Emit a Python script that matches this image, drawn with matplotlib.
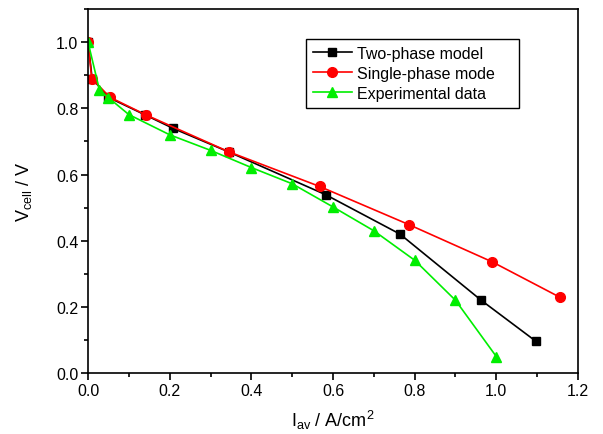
import matplotlib
matplotlib.use("Agg")
import matplotlib.pyplot as plt
from matplotlib.ticker import MultipleLocator

plt.rcParams['font.family'] = ['Liberation Sans', 'DejaVu Sans']
plt.rcParams['mathtext.fontset'] = 'custom'
plt.rcParams['mathtext.rm'] = 'Liberation Sans'
plt.rcParams['mathtext.it'] = 'Liberation Sans'

# Polarization curves: average current density (A/cm^2) vs. cell voltage (V)
two_phase_i = [0.0, 0.01, 0.05, 0.14, 0.209, 0.345, 0.582, 0.764, 0.963, 1.096]
two_phase_v = [1.0, 0.89, 0.833, 0.78, 0.739, 0.668, 0.539, 0.42, 0.22, 0.097]

single_phase_i = [0.0, 0.009, 0.054, 0.142, 0.346, 0.567, 0.787, 0.99, 1.156]
single_phase_v = [1.0, 0.89, 0.833, 0.78, 0.668, 0.564, 0.448, 0.336, 0.229]

exp_i = [0.0, 0.028, 0.05, 0.1, 0.2, 0.3, 0.4, 0.5, 0.6, 0.7, 0.8, 0.9, 1.0]
exp_v = [1.0, 0.855, 0.832, 0.781, 0.72, 0.673, 0.621, 0.572, 0.502, 0.43, 0.341, 0.22, 0.05]

fig = plt.figure(figsize=(6.03, 4.35), dpi=100)
ax = fig.add_axes([0.146, 0.140, 0.8125, 0.837])

ax.plot(two_phase_i, two_phase_v, color='black', lw=1.2, marker='s', ms=6,
        label='Two-phase model')
ax.plot(single_phase_i, single_phase_v, color='#ff0000', lw=1.2, marker='o', ms=7,
        label='Single-phase mode')
ax.plot(exp_i, exp_v, color='#00ee00', lw=1.2, marker='^', ms=7.5,
        label='Experimental data')

ax.set_xlim(0, 1.2)
ax.set_ylim(0, 1.1)
ax.xaxis.set_major_locator(MultipleLocator(0.2))
ax.xaxis.set_minor_locator(MultipleLocator(0.1))
ax.yaxis.set_major_locator(MultipleLocator(0.2))
ax.yaxis.set_minor_locator(MultipleLocator(0.1))
ax.xaxis.set_major_formatter(plt.FormatStrFormatter('%.1f'))
ax.yaxis.set_major_formatter(plt.FormatStrFormatter('%.1f'))

ax.tick_params(which='major', direction='out', length=5, width=1.2, labelsize=11.5,
               pad=2, top=False, right=False)
ax.tick_params(which='minor', direction='out', length=3, width=1.2,
               top=False, right=False)
for s in ax.spines.values():
    s.set_linewidth(1.2)

ax.set_xlabel(r'$\mathregular{I_{av}}$ / A/cm$\mathregular{^2}$', fontsize=13, labelpad=7)
ax.set_ylabel(r'$\mathregular{V_{cell}}$ / V', fontsize=13, labelpad=16)

# legend box spans a fixed width inside the axes
leg = ax.legend(loc='upper left', bbox_to_anchor=(0.445, 0.733, 0.435, 0.185),
                mode='expand', fontsize=11.5,
                frameon=True, fancybox=False, edgecolor='black', framealpha=1,
                handlelength=2.4, borderpad=0.45, labelspacing=0.3,
                handletextpad=0.35, borderaxespad=0)
leg.get_frame().set_linewidth(1.0)

fig.savefig('out.png', dpi=100)
